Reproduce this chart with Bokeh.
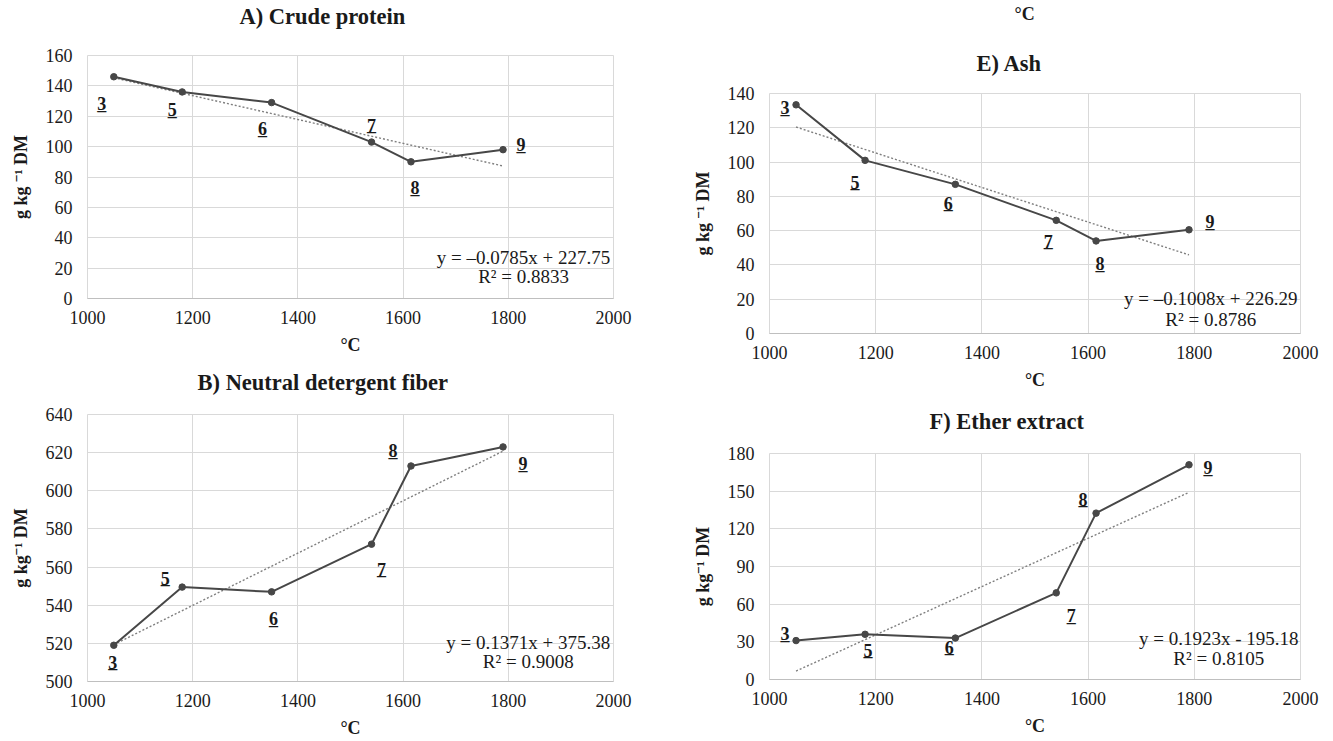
from bokeh.plotting import figure
from bokeh.models import Title, Label, FixedTicker, ColumnDataSource, Range1d
from bokeh.layouts import row, column
from bokeh.embed import file_html
from bokeh.resources import INLINE
from bokeh.core.properties import value

# ---------------- data ----------------
temps = [1050, 1180, 1350, 1540, 1615, 1790]          # °C
codes = ["3", "5", "6", "7", "8", "9"]

crude_protein = [146, 136, 129, 103, 90, 98]
ndf = [519, 549.5, 547, 572, 613, 623]
ash = [133.4, 101, 87, 66, 54, 60.5]
ether_extract = [31, 36, 33, 69, 132.5, 171]

x_ticks = [1000, 1200, 1400, 1600, 1800, 2000]
cp_ticks = [0, 20, 40, 60, 80, 100, 120, 140, 160]
ndf_ticks = [500, 520, 540, 560, 580, 600, 620, 640]
ash_ticks = [0, 20, 40, 60, 80, 100, 120, 140]
ee_ticks = [0, 30, 60, 90, 120, 150, 180]

# linear trend: slope, intercept, R²
cp_fit = (-0.0785, 227.75, 0.8833)
ndf_fit = (0.1371, 375.38, 0.9008)
ash_fit = (-0.1008, 226.29, 0.8786)
ee_fit = (0.1923, -195.18, 0.8105)

cp_eq = ["y = \u20130.0785x + 227.75", "R\u00b2 = 0.8833"]
ndf_eq = ["y = 0.1371x + 375.38", "R\u00b2 = 0.9008"]
ash_eq = ["y = \u20130.1008x + 226.29", "R\u00b2 = 0.8786"]
ee_eq = ["y = 0.1923x - 195.18", "R\u00b2 = 0.8105"]

# ---------------- style ----------------
FONT = "Liberation Serif, Times New Roman, Tinos, Noto Serif, DejaVu Serif, serif"
TXT = "#1a1a1a"
LINE = "#474747"
GRID = "#d9d9d9"

# label offsets in px (dx right, dy up)
cp_off = [(-12, -27), (-10, -18), (-9, -26), (0, 17), (4, -26), (18, 5)]
ndf_off = [(-1, -17), (-17, 9), (2, -27), (10, -25), (-18, 15), (20, -17)]
ash_off = [(-11, -3), (-10, -22), (-7, -19), (-8, -21), (4, -23), (21, 8)]
ee_off = [(-11, 7), (3, -16), (-6, -9), (15, -23), (-13, 14), (19, -3)]


def spacer(gap):
    return Title(text=" ", text_font_size="1px", standoff=gap)


def panel(title, yvals, yticks, fit, eq, offs, ylabel, W, H, borders,
          eq_x, eq_y, title_offset, gap, top_extra=None):
    bl, br, bt, bb = borders
    p = figure(width=W, height=H, title=None,
               x_range=Range1d(x_ticks[0], x_ticks[-1]),
               y_range=Range1d(yticks[0], yticks[-1]),
               output_backend="svg", toolbar_location=None,
               min_border_left=bl, min_border_right=br,
               min_border_top=bt, min_border_bottom=bb)
    p.add_layout(spacer(gap), "above")
    p.add_layout(Title(text=title, align="left", offset=title_offset,
                       text_font=FONT, text_font_size="22.5px",
                       text_font_style="bold", text_color=TXT,
                       standoff=0), "above")
    if top_extra is not None:
        p.add_layout(spacer(top_extra[2]), "above")
        p.add_layout(Title(text=top_extra[0], align="left", offset=top_extra[1],
                           text_font=FONT, text_font_size="18px",
                           text_font_style="bold", text_color=TXT,
                           standoff=0), "above")
    p.outline_line_color = GRID
    p.background_fill_color = "white"
    p.border_fill_color = "white"

    p.xaxis.ticker = FixedTicker(ticks=x_ticks)
    p.yaxis.ticker = FixedTicker(ticks=yticks)
    for ax in (p.xaxis, p.yaxis):
        ax.major_tick_line_color = None
        ax.minor_tick_line_color = None
        ax.major_tick_out = 0
        ax.major_tick_in = 0
        ax.major_label_text_font = FONT
        ax.major_label_text_font_size = "18px"
        ax.major_label_text_color = TXT
        ax.axis_label_text_font = FONT
        ax.axis_label_text_font_size = "18px"
        ax.axis_label_text_font_style = "bold"
        ax.axis_label_text_color = TXT
    p.xaxis.axis_line_color = "#bfbfbf"
    p.yaxis.axis_line_color = None
    p.xaxis.axis_label = "\u00b0C"
    p.yaxis.axis_label = ylabel
    p.xaxis.major_label_standoff = 12
    p.xaxis.axis_label_standoff = 8
    p.yaxis.major_label_standoff = 15
    p.yaxis.axis_label_standoff = 12
    p.xgrid.grid_line_color = GRID
    p.ygrid.grid_line_color = GRID

    # trend line from the fit over the data range
    m, b, _ = fit
    tx = [min(temps), max(temps)]
    ty = [m * v + b for v in tx]
    p.line(tx, ty, line_color="#7f7f7f", line_width=1.4, line_dash="2 2")

    src = ColumnDataSource(dict(x=temps, y=yvals, t=codes,
                                u=["_" for c in codes],
                                dx=[o[0] for o in offs],
                                dy=[-o[1] for o in offs]))
    p.line("x", "y", source=src, line_color=LINE, line_width=2)
    p.scatter("x", "y", source=src, size=6.5, fill_color=LINE, line_color=LINE)
    for col in ("t", "u"):
        p.text("x", "y", text=col, source=src, x_offset="dx", y_offset="dy",
               text_font=value(FONT), text_font_size="18px", text_font_style="bold",
               text_color=TXT, text_align="center", text_baseline="middle")

    for txt, yy in zip(eq, eq_y):
        p.add_layout(Label(x=eq_x, y=yy, text=txt, text_align="center",
                           text_baseline="middle", text_font=FONT,
                           text_font_size="19px", text_color=TXT))
    return p


pa = panel("A) Crude protein", crude_protein, cp_ticks, cp_fit, cp_eq, cp_off,
           "g kg \u207b\u00b9 DM", 680, 362, (87, 67, 55, 64),
           1829, [27.0, 14.5], 152, 24)
pb = panel("B) Neutral detergent fiber", ndf, ndf_ticks, ndf_fit, ndf_eq, ndf_off,
           "g kg\u207b\u00b9 DM", 680, 378, (87, 67, 52, 58),
           1838, [520.3, 510.4], 110, 17)
pe = panel("E) Ash", ash, ash_ticks, ash_fit, ash_eq, ash_off,
           "g kg \u207b\u00b9 DM", 652, 392, (89, 31, 93, 59),
           1831, [20.4, 8.2], 207, 15, top_extra=("\u00b0C", 245, 22))
pf = panel("F) Ether extract", ether_extract, ee_ticks, ee_fit, ee_eq, ee_off,
           "g kg\u207b\u00b9 DM", 652, 348, (88, 32, 61, 61),
           1846, [32.6, 16.7], 160, 17)

layout = row(column(pa, pb), column(pe, pf))
open("out.html", "w").write(file_html(layout, INLINE))
